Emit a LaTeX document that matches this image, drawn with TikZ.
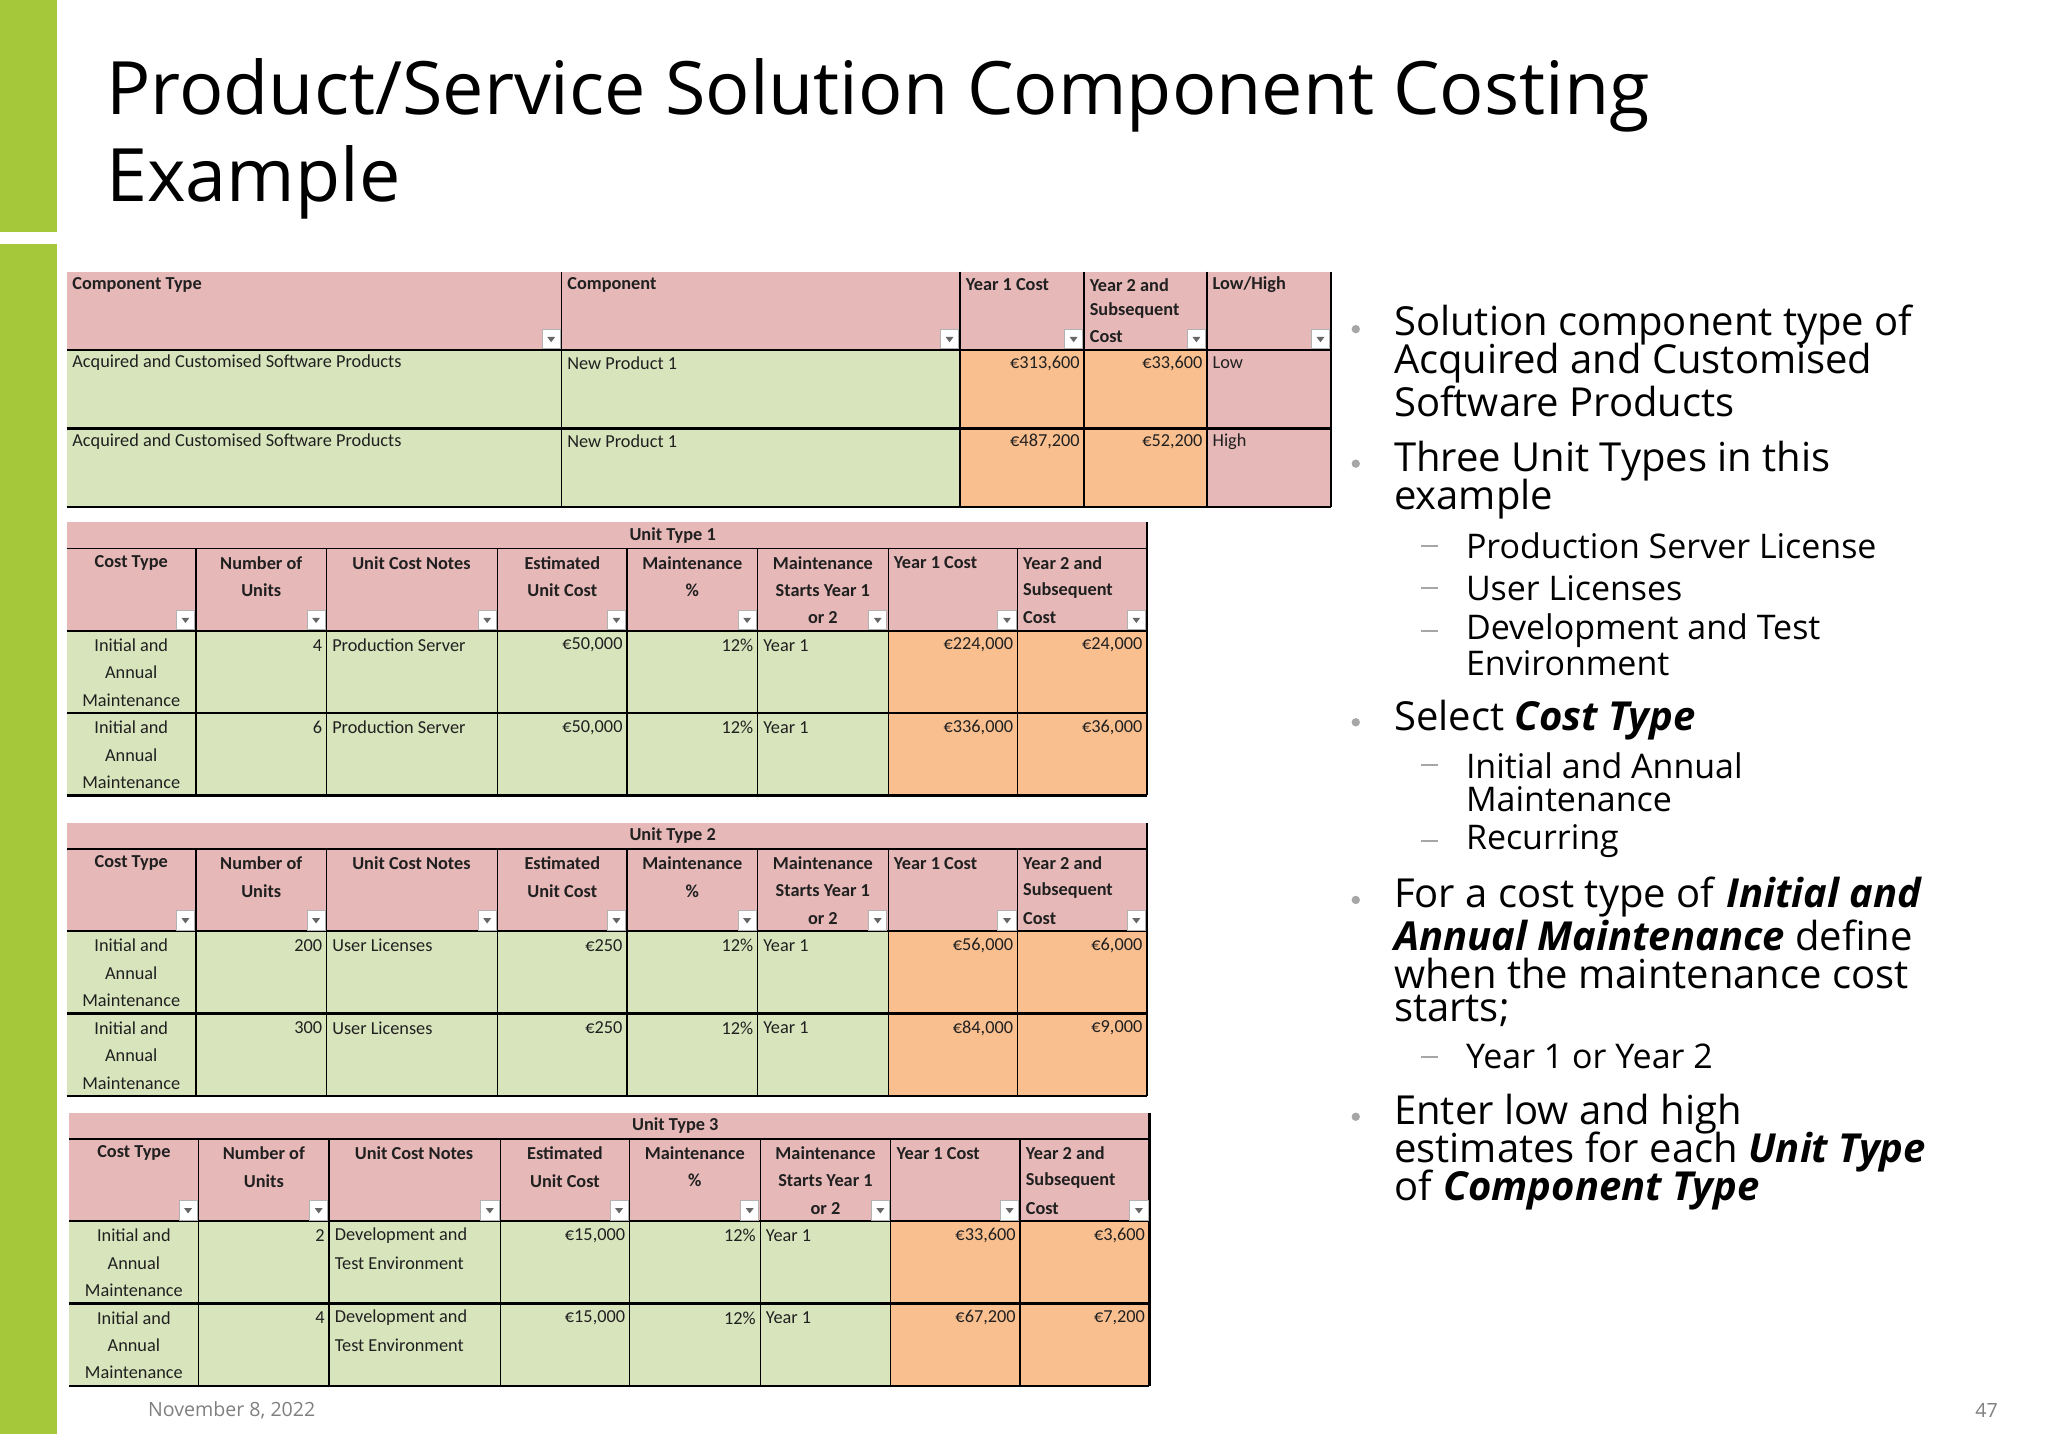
\documentclass[tikz,border=0pt]{standalone}
\usepackage{fontspec}
\setmainfont{Open Sans}
\newfontfamily\tf{Carlito}
\definecolor{pk}{HTML}{E6B8B7}
\definecolor{gr}{HTML}{D8E4BC}
\definecolor{orr}{HTML}{FABF8F}
\definecolor{bar}{HTML}{A5C83A}
\definecolor{txt}{HTML}{202020}
\tikzset{tt/.style={font=\tf\fontsize{7}{7.5}\selectfont,inner sep=1pt,text=txt},
 ttb/.style={tt,font=\tf\bfseries\fontsize{7}{7.5}\selectfont},
 bl/.style={anchor=west,inner sep=0,font=\fontsize{15.3}{16}\selectfont,text=black},
 sb/.style={anchor=west,inner sep=0,font=\fontsize{13}{14}\selectfont,text=black}}
\newcommand\dd[2]{\fill[white] (#1-15,#2-16) rectangle (#1-1,#2-1);
 \draw[gray!60,line width=0.3pt] (#1-15,#2-16) rectangle (#1-1,#2-1);
 \fill[gray!80!black] (#1-11,#2-10) -- (#1-5,#2-10) -- (#1-8,#2-6) -- cycle;}
\newcommand\UTframe[1]{%
 \fill[pk] (0,0) rectangle (827,83);
 \fill[gr] (0,83) rectangle (629,209);
 \fill[orr] (629,83) rectangle (827,209);
 \draw[line width=0.5pt] (0,20) -- (827,20);
 \draw[line width=0.9pt] (0,83) -- (827,83) (0,146) -- (827,146) (0,209) -- (827,209) (827,0) -- (827,209);
 \foreach \c in {99,199,330,429,529,629,728} {\draw[line width=0.5pt] (\c,20) -- (\c,209);}
 \node[ttb] at (464,10) {#1};
 \foreach \c/\a/\b/\d in {49.5/Cost Type//,149/Number of/Units/,264/Unit Cost Notes//,379.5/Estimated/Unit Cost/,479/Maintenance/\%/,579/Maintenance/Starts Year 1/or 2}{
  \node[ttb] at (\c,31) {\a}; \node[ttb] at (\c,52) {\b}; \node[ttb] at (\c,73) {\d};}
 \node[ttb,anchor=west] at (631,31) {Year 1 Cost};
 \node[ttb,anchor=west] at (730,31) {Year 2 and};
 \node[ttb,anchor=west] at (730,52) {Subsequent};
 \node[ttb,anchor=west] at (730,73) {Cost};
 \foreach \c in {99,199,330,429,529,629,728,827} {\dd{\c}{83}}
}
\newcommand\UTrow[7]{%
 \node[tt] at (49.5,#1+11) {Initial and};
 \node[tt] at (49.5,#1+32) {Annual};
 \node[tt] at (49.5,#1+53) {Maintenance};
 \node[tt,anchor=east] at (198,#1+11) {#2};
 \node[tt,anchor=west] at (201,#1+11) {#3};
 \node[tt,anchor=west] at (201,#1+32) {#4};
 \node[tt,anchor=east] at (428,#1+11) {#5};
 \node[tt,anchor=east] at (528,#1+11) {12\%};
 \node[tt,anchor=west] at (531,#1+11) {Year 1};
 \node[tt,anchor=east] at (727,#1+11) {#6};
 \node[tt,anchor=east] at (826,#1+11) {#7};
}
\newcommand\TTrow[4]{%
  \node[tt,anchor=west] at (2,#1) {Acquired and Customised Software Products};
  \node[tt,anchor=west] at (381,#1) {New Product 1};
  \node[tt,anchor=east] at (778,#1) {#2};
  \node[tt,anchor=east] at (872,#1) {#3};
  \node[tt,anchor=west] at (875,#1) {#4};}
\begin{document}
\begin{tikzpicture}[x=0.5pt,y=-0.5pt]
\useasboundingbox (0,0) rectangle (1568,1098);
\fill[white] (0,0) rectangle (1568,1098);
\fill[bar] (0,0) rectangle (44,178);
\fill[bar] (0,187) rectangle (44,1098);
\node[anchor=west,inner sep=0,font=\fontsize{28.2}{29}\selectfont] (t1) at (81,73) {Product/Service Solution Component Costing};
\node[anchor=west,inner sep=0,font=\fontsize{28.2}{29}\selectfont] (t2) at (81,140) {Example};
\begin{scope}[shift={(51,208)}]
 \fill[pk] (0,0) rectangle (968,60);
 \fill[gr] (0,60) rectangle (684,180);
 \fill[orr] (684,60) rectangle (873,180);
 \fill[pk] (873,60) rectangle (968,180);
 \draw[line width=0.9pt] (0,60) -- (968,60) (0,120) -- (968,120) (0,180) -- (968,180) (968,0) -- (968,180);
 \foreach \c in {379,684,779,873} {\draw[line width=0.5pt] (\c,0) -- (\c,180);}
 \node[ttb,anchor=west] at (2,10) {Component Type};
 \node[ttb,anchor=west] at (381,10) {Component};
 \node[ttb,anchor=west] at (686,10) {Year 1 Cost};
 \node[ttb,anchor=west] at (781,10) {Year 2 and};
 \node[ttb,anchor=west] at (781,30) {Subsequent};
 \node[ttb,anchor=west] at (781,50) {Cost};
 \node[ttb,anchor=west] at (875,10) {Low/High};
 \foreach \c in {379,684,779,873,968} {\dd{\c}{60}}
 \TTrow{70}{{\texteuro}313,600}{{\texteuro}33,600}{Low}
 \TTrow{130}{{\texteuro}487,200}{{\texteuro}52,200}{High}
\end{scope}
\begin{scope}[shift={(51,400)}]
 \UTframe{Unit Type 1}
 \UTrow{83}{4}{Production Server}{}{{\texteuro}50,000}{{\texteuro}224,000}{{\texteuro}24,000}
 \UTrow{146}{6}{Production Server}{}{{\texteuro}50,000}{{\texteuro}336,000}{{\texteuro}36,000}
\end{scope}
\begin{scope}[shift={(51,630)}]
 \UTframe{Unit Type 2}
 \UTrow{83}{200}{User Licenses}{}{{\texteuro}250}{{\texteuro}56,000}{{\texteuro}6,000}
 \UTrow{146}{300}{User Licenses}{}{{\texteuro}250}{{\texteuro}84,000}{{\texteuro}9,000}
\end{scope}
\begin{scope}[shift={(53,852)}]
 \UTframe{Unit Type 3}
 \UTrow{83}{2}{Development and}{Test Environment}{{\texteuro}15,000}{{\texteuro}33,600}{{\texteuro}3,600}
 \UTrow{146}{4}{Development and}{Test Environment}{{\texteuro}15,000}{{\texteuro}67,200}{{\texteuro}7,200}
\end{scope}
\foreach \y in {252,355,553,689,855} {\fill[gray!70] (1038,\y) circle (3.2);}
\foreach \y in {418,450,483,586,644,809} {\draw[gray!70,line width=0.8pt] (1088,\y) -- (1101,\y);}
\node[bl] at (1067,249) {Solution component type of};
\node[bl] at (1067,278) {Acquired and Customised};
\node[bl] at (1067,307) {Software Products};
\node[bl] at (1067,353) {Three Unit Types in this};
\node[bl] at (1067,382) {example};
\node[sb] at (1122,418) {Production Server License};
\node[sb] at (1122,450) {User Licenses};
\node[sb] at (1122,483) {Development and Test};
\node[sb] at (1122,508) {Environment};
\node[bl] at (1067,551) {Select \textbf{\textit{Cost Type}}};
\node[sb] at (1122,586) {Initial and Annual};
\node[sb] at (1122,612) {Maintenance};
\node[sb] at (1122,644) {Recurring};
\node[bl] at (1067,687) {For a cost type of \textbf{\textit{Initial and}}};
\node[bl] at (1067,716) {\textbf{\textit{Annual Maintenance}} define};
\node[bl] at (1067,745) {when the maintenance cost};
\node[bl] at (1067,774) {starts;};
\node[sb] at (1122,809) {Year 1 or Year 2};
\node[bl] at (1067,853) {Enter low and high};
\node[bl] at (1067,882) {estimates for each \textbf{\textit{Unit Type}}};
\node[bl] at (1067,911) {of \textbf{\textit{Component Type}}};
\node[anchor=west,inner sep=0,font=\fontsize{7.5}{8}\selectfont,text=gray] at (113,1080) {November 8, 2022};
\node[anchor=east,inner sep=0,font=\fontsize{7.5}{8}\selectfont,text=gray] at (1530,1080) {47};
\end{tikzpicture}
\end{document}
